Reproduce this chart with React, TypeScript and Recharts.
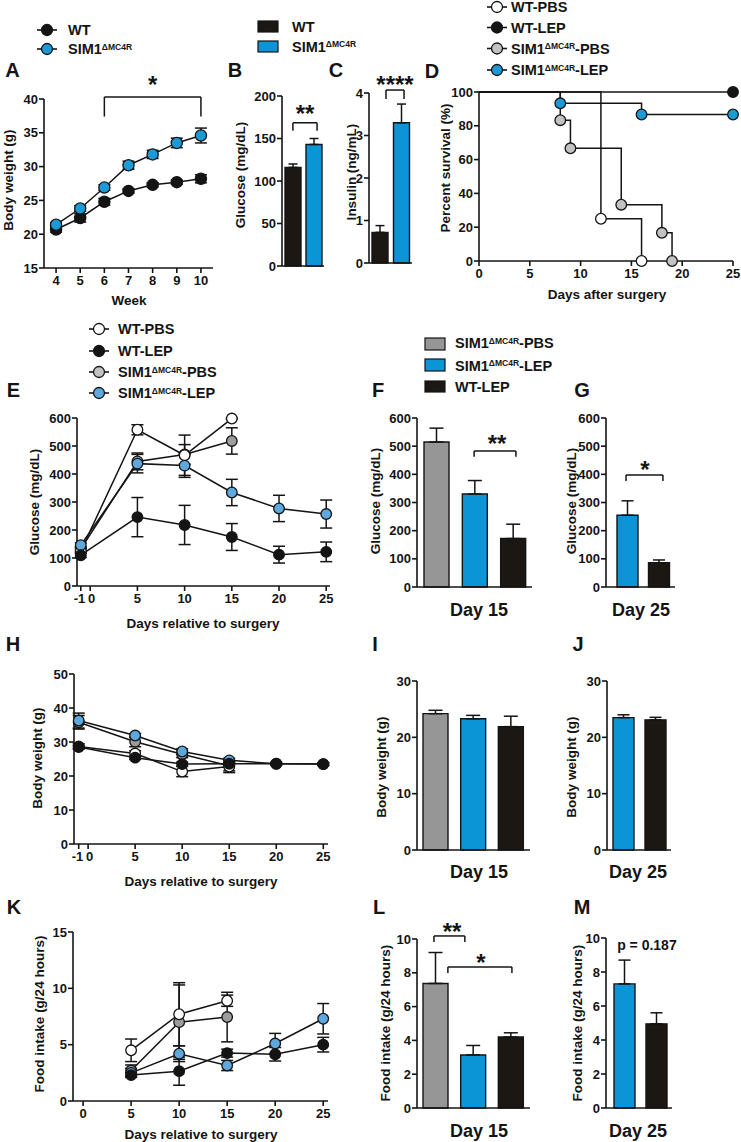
import React from 'react';
import {
  LineChart,
  Line,
  BarChart,
  Bar,
  XAxis,
  YAxis,
  ErrorBar,
  ReferenceLine,
  ReferenceDot,
  Cell,
} from 'recharts';

const FONT = '"Liberation Sans", Arial, Helvetica, sans-serif';
const INK = '#141414';
const BLUE = '#1c9ad6';
const BLUE_LIGHT = '#5fa8dd';
const BLUE_BAR = '#0b95d7';
const GRAY_LIGHT = '#c2c2c2';
const GRAY_MID = '#9c9c9c';
const GRAY_BAR = '#969696';
const BLACK_BAR = '#1b1814';
const WHITE = '#ffffff';

// ---------- Panel A: body weight by week ----------
const weeks = [4, 5, 6, 7, 8, 9, 10];
const weekTicks = [4, 5, 6, 7, 8, 9, 10];
const bwWt = [20.7, 22.4, 24.8, 26.4, 27.3, 27.7, 28.2];
const bwWtSem = [0.4, 0.6, 0.5, 0.3, 0.3, 0.3, 0.6];
const bwSim = [21.4, 23.8, 26.9, 30.2, 31.8, 33.5, 34.6];
const bwSimSem = [0.3, 0.4, 0.4, 0.6, 0.6, 0.7, 1.1];
const bwTicksA = [15, 20, 25, 30, 35, 40];

// ---------- Panels B, C ----------
const genotypes = ['WT', 'SIM1ΔMC4R'];
const glucoseBase = [116, 143];
const glucoseBaseSem = [4, 7];
const glucoseTicksB = [0, 50, 100, 150, 200];
const insulinBase = [0.72, 3.3];
const insulinBaseSem = [0.16, 0.44];
const insulinTicks = [0, 1, 2, 3, 4];

// ---------- Panel D: survival ----------
const survWtPbsDays = [0, 12, 16];
const survWtPbs = [100, 25, 0];
const survWtLepDays = [0, 25];
const survWtLep = [100, 100];
const survSimPbsDays = [0, 8, 9, 14, 18, 19];
const survSimPbs = [100, 83.3, 66.7, 33.3, 16.7, 0];
const survSimLepDays = [0, 8, 16, 25];
const survSimLep = [100, 93.3, 86.7, 86.7];
const survTicksX = [0, 5, 10, 15, 20, 25];
const survTicksY = [0, 20, 40, 60, 80, 100];

// ---------- Panels E, H: time course ----------
const days = [-1, 5, 10, 15, 20, 25];
const dayTicks = [-1, 0, 5, 10, 15, 20, 25];
const gluWtPbs = [125, 558, 467, 598, null, null];
const gluWtPbsSem = [8, 18, 72, 2, null, null];
const gluWtLep = [110, 246, 218, 175, 112, 122];
const gluWtLepSem = [8, 70, 70, 48, 30, 35];
const gluSimPbs = [132, 445, 470, 518, null, null];
const gluSimPbsSem = [8, 30, 35, 47, null, null];
const gluSimLep = [146, 437, 430, 334, 277, 257];
const gluSimLepSem = [8, 33, 42, 47, 47, 50];
const gluTicks = [0, 100, 200, 300, 400, 500, 600];

const bwtWtPbs = [28.7, 26.6, 21.3, 22.8, null, null];
const bwtWtPbsSem = [0.8, 0.8, 1.5, 1.8, null, null];
const bwtWtLep = [28.5, 25.4, 23.5, 23.6, 23.6, 23.5];
const bwtWtLepSem = [0.5, 0.5, 0.6, 0.5, 0.4, 0.4];
const bwtSimPbs = [35.8, 30.1, 26.4, 23.0, null, null];
const bwtSimPbsSem = [2.0, 1.5, 1.0, 1.5, null, null];
const bwtSimLep = [36.3, 31.9, 27.2, 24.6, 23.6, 23.5];
const bwtSimLepSem = [2.2, 0.6, 0.8, 0.6, 0.4, 0.4];
const bwtTicks = [0, 10, 20, 30, 40, 50];

// ---------- Panel K: food intake ----------
const fiDays = [5, 10, 15, 20, 25];
const fiDayTicks = [0, 5, 10, 15, 20, 25];
const fiWtPbs = [4.5, 7.7, 8.9, null, null];
const fiWtPbsSem = [1.0, 2.8, 0.5, null, null];
const fiWtLep = [2.3, 2.65, 4.25, 4.15, 5.0];
const fiWtLepSem = [0.2, 1.25, 0.35, 0.6, 0.65];
const fiSimPbs = [2.7, 7.0, 7.45, null, null];
const fiSimPbsSem = [0.5, 3.3, 2.2, null, null];
const fiSimLep = [2.5, 4.2, 3.15, 5.1, 7.3];
const fiSimLepSem = [0.4, 0.7, 0.45, 0.9, 1.35];
const fiTicks = [0, 5, 10, 15];

// ---------- Bar panels F-G, I-J, L-M ----------
const groups3 = ['SIM1ΔMC4R-PBS', 'SIM1ΔMC4R-LEP', 'WT-LEP'];
const groups2 = ['SIM1ΔMC4R-LEP', 'WT-LEP'];
const glu15 = [515, 330, 172];
const glu15Sem = [49, 48, 51];
const glu25 = [255, 86];
const glu25Sem = [51, 10];
const glucoseTicks600 = [0, 100, 200, 300, 400, 500, 600];
const bw15 = [24.2, 23.3, 21.9];
const bw15Sem = [0.6, 0.6, 1.85];
const bw25 = [23.5, 23.1];
const bw25Sem = [0.5, 0.45];
const bwTicks30 = [0, 10, 20, 30];
const fi15 = [7.37, 3.14, 4.2];
const fi15Sem = [1.83, 0.56, 0.25];
const fi25 = [7.3, 4.95];
const fi25Sem = [1.4, 0.65];
const fiTicks10 = [0, 2, 4, 6, 8, 10];

// ---------- layout helpers ----------
type Rect = { x0: number; y0: number; x1: number; y1: number };
const PAD = { l: 50, t: 34, r: 22, b: 30 };
const chartMargin = { top: PAD.t, right: PAD.r, bottom: 0, left: 0 };
const frameStyle = (p: Rect): React.CSSProperties => ({
  position: 'absolute',
  left: p.x0 - PAD.l,
  top: p.y0 - PAD.t,
});
const dims = (p: Rect) => ({
  width: p.x1 - p.x0 + PAD.l + PAD.r,
  height: p.y1 - p.y0 + PAD.t + PAD.b,
});

const axisStroke = { stroke: INK, strokeWidth: 1.6 };
const tickStyle = { fill: INK, fontSize: 13, fontWeight: 700, fontFamily: FONT };

// "-1" and "0" sit close together on the day axes; nudge them apart like the original
const DayTick = (props: any) => {
  const { x, y, payload } = props;
  const v = payload.value;
  const anchor = v === -1 ? 'end' : 'middle';
  const dx = v === -1 ? 4.5 : v === 0 ? 1.5 : 0;
  return (
    <text x={x + dx} y={y} dy="0.71em" textAnchor={anchor} {...tickStyle}>
      {v}
    </text>
  );
};

const numX = (domain: number[], ticks: number[], tick: any = tickStyle) => ({
  type: 'number' as const,
  dataKey: 'x',
  domain,
  ticks,
  interval: 0 as const,
  height: PAD.b,
  axisLine: axisStroke,
  tickLine: axisStroke,
  tick,
  tickSize: 5,
  tickMargin: 3,
});
const numY = (domain: number[], ticks: number[]) => ({
  type: 'number' as const,
  domain,
  ticks,
  interval: 0 as const,
  width: PAD.l,
  axisLine: axisStroke,
  tickLine: axisStroke,
  tick: tickStyle,
  tickSize: 5,
  tickMargin: 1,
});

type Row = { x: number; y: number; e: number };
function seriesRows(xs: number[], ys: (number | null)[], es: (number | null)[]): Row[] {
  const out: Row[] = [];
  xs.forEach((x, i) => {
    const y = ys[i];
    if (y !== null && y !== undefined) out.push({ x, y, e: es[i] ?? 0 });
  });
  return out;
}

function lineSeries(id: string, data: Row[], fill: string, r = 5.3) {
  return (
    <Line
      key={id}
      name={id}
      data={data}
      dataKey="y"
      type="linear"
      stroke={INK}
      strokeWidth={1.5}
      dot={{ r, fill, stroke: INK, strokeWidth: 1.3, fillOpacity: 1 }}
      activeDot={false}
      isAnimationActive={false}
    >
      <ErrorBar dataKey="e" width={6} stroke={INK} strokeWidth={1.5} direction="y" />
    </Line>
  );
}

function stepSeries(id: string, data: Row[], fill: string) {
  return (
    <Line
      key={id}
      name={id}
      data={data}
      dataKey="y"
      type="stepAfter"
      stroke={INK}
      strokeWidth={1.5}
      activeDot={false}
      isAnimationActive={false}
      dot={(p: any) =>
        p.index === 0 ? (
          <g key={`${id}-${p.index}`} />
        ) : (
          <circle key={`${id}-${p.index}`} cx={p.cx} cy={p.cy} r={5.3} fill={fill} stroke={INK} strokeWidth={1.3} />
        )
      }
    />
  );
}

function bracket(key: string, xa: number, xb: number, yTop: number, yEnd: number) {
  const st = { stroke: INK, strokeWidth: 1.5 };
  return [
    <ReferenceLine key={key + 'l'} segment={[{ x: xa, y: yEnd }, { x: xa, y: yTop }]} ifOverflow="visible" {...st} />,
    <ReferenceLine key={key + 't'} segment={[{ x: xa, y: yTop }, { x: xb, y: yTop }]} ifOverflow="visible" {...st} />,
    <ReferenceLine key={key + 'r'} segment={[{ x: xb, y: yTop }, { x: xb, y: yEnd }]} ifOverflow="visible" {...st} />,
  ];
}

function note(key: string, x: number, y: number, text: string, size = 24) {
  return (
    <ReferenceDot
      key={key}
      x={x}
      y={y}
      r={0}
      fill="none"
      stroke="none"
      ifOverflow="visible"
      label={{ value: text, position: 'center', fill: INK, fontSize: size, fontWeight: 700, fontFamily: FONT }}
    />
  );
}

// Transparent chart laid over a bar panel: same plot box, numeric x in "bar slot" units
function AnnotLayer(props: { rect: Rect; n: number; yDomain: number[]; children: React.ReactNode }) {
  const d = dims(props.rect);
  return (
    <div style={frameStyle(props.rect)}>
      <LineChart
        width={d.width}
        height={d.height}
        margin={{ top: PAD.t, right: PAD.r, bottom: PAD.b, left: PAD.l }}
      >
        <XAxis type="number" dataKey="x" domain={[0, props.n]} hide allowDataOverflow />
        <YAxis type="number" domain={props.yDomain} hide allowDataOverflow />
        {props.children}
      </LineChart>
    </div>
  );
}

// ---------- panels ----------
const RA: Rect = { x0: 44, y0: 99, x1: 213, y1: 268 };
function PanelA() {
  const d = dims(RA);
  return (
    <div style={frameStyle(RA)}>
      <LineChart width={d.width} height={d.height} margin={chartMargin}>
        <XAxis {...numX([3.5, 10.5], weekTicks)} />
        <YAxis {...numY([15, 40], bwTicksA)} />
        {bracket('a', 6, 10, 40.3, 37.4)}
        {note('a*', 8, 42.2, '*')}
        {lineSeries('wt', seriesRows(weeks, bwWt, bwWtSem), INK, 5.6)}
        {lineSeries('sim', seriesRows(weeks, bwSim, bwSimSem), BLUE, 5.6)}
      </LineChart>
    </div>
  );
}

const RD: Rect = { x0: 479, y0: 92, x1: 733, y1: 261 };
function PanelD() {
  const d = dims(RD);
  return (
    <div style={frameStyle(RD)}>
      <LineChart width={d.width} height={d.height} margin={chartMargin}>
        <XAxis {...numX([0, 25], survTicksX)} />
        <YAxis {...numY([0, 100], survTicksY)} />
        {stepSeries('wtlep', seriesRows(survWtLepDays, survWtLep, [0, 0]), INK)}
        {stepSeries('simlep', seriesRows(survSimLepDays, survSimLep, [0, 0, 0, 0]), BLUE)}
        {stepSeries('simpbs', seriesRows(survSimPbsDays, survSimPbs, [0, 0, 0, 0, 0, 0]), GRAY_LIGHT)}
        {stepSeries('wtpbs', seriesRows(survWtPbsDays, survWtPbs, [0, 0, 0]), WHITE)}
      </LineChart>
    </div>
  );
}

function TimePanel(props: {
  rect: Rect;
  xDomain: number[];
  xTicks: number[];
  yDomain: number[];
  yTicks: number[];
  xs: number[];
  wtPbs: (number | null)[];
  wtPbsSem: (number | null)[];
  wtLep: (number | null)[];
  wtLepSem: (number | null)[];
  simPbs: (number | null)[];
  simPbsSem: (number | null)[];
  simLep: (number | null)[];
  simLepSem: (number | null)[];
  dayTick?: boolean;
}) {
  const p = props;
  const d = dims(p.rect);
  return (
    <div style={frameStyle(p.rect)}>
      <LineChart width={d.width} height={d.height} margin={chartMargin}>
        <XAxis {...numX(p.xDomain, p.xTicks, p.dayTick ? <DayTick /> : tickStyle)} />
        <YAxis {...numY(p.yDomain, p.yTicks)} />
        {lineSeries('simpbs', seriesRows(p.xs, p.simPbs, p.simPbsSem), GRAY_MID)}
        {lineSeries('wtpbs', seriesRows(p.xs, p.wtPbs, p.wtPbsSem), WHITE)}
        {lineSeries('simlep', seriesRows(p.xs, p.simLep, p.simLepSem), BLUE_LIGHT)}
        {lineSeries('wtlep', seriesRows(p.xs, p.wtLep, p.wtLepSem), INK)}
      </LineChart>
    </div>
  );
}

function BarPanel(props: {
  rect: Rect;
  cats: string[];
  vals: number[];
  sems: number[];
  colors: string[];
  yDomain: number[];
  yTicks: number[];
  barSize: number;
  capW: number;
  padL?: number;
  extra?: React.ReactNode;
}) {
  const { rect, cats, vals, sems, colors, yDomain, yTicks, barSize, capW, padL = 0, extra } = props;
  const data = cats.map((c, i) => ({ c, v: vals[i], e: [0, sems[i]] }));
  const d = dims(rect);
  return (
    <>
      <div style={frameStyle(rect)}>
        <BarChart width={d.width} height={d.height} data={data} margin={chartMargin} barCategoryGap={0}>
          <XAxis
            dataKey="c"
            type="category"
            height={PAD.b}
            tick={false}
            tickLine={false}
            axisLine={axisStroke}
            padding={{ left: padL, right: 0 }}
          />
          <YAxis {...numY(yDomain, yTicks)} />
          <Bar dataKey="v" barSize={barSize} stroke={INK} strokeWidth={1.4} isAnimationActive={false}>
            {data.map((_, i) => (
              <Cell key={i} fill={colors[i]} />
            ))}
            <ErrorBar dataKey="e" width={capW} stroke={INK} strokeWidth={1.5} direction="y" />
          </Bar>
        </BarChart>
      </div>
      {extra ? (
        <AnnotLayer rect={rect} n={cats.length} yDomain={yDomain}>
          {extra}
        </AnnotLayer>
      ) : null}
    </>
  );
}

const C2 = [BLACK_BAR, BLUE_BAR];
const C3 = [GRAY_BAR, BLUE_BAR, BLACK_BAR];
const C2b = [BLUE_BAR, BLACK_BAR];

// ---------- overlay text ----------
const Txt = (p: { x: number; y: number; size: number; children: React.ReactNode; anchor?: string }) => (
  <text x={p.x} y={p.y + p.size * 0.355} fontSize={p.size} textAnchor={(p.anchor as any) || 'middle'}>
    {p.children}
  </text>
);
const VTxt = (p: { x: number; y: number; children: React.ReactNode }) => (
  <text
    x={p.x}
    y={p.y + 13.5 * 0.3}
    fontSize={13.5}
    textAnchor="middle"
    transform={`rotate(-90 ${p.x} ${p.y})`}
  >
    {p.children}
  </text>
);
const LegDot = (p: { x: number; y: number; fill: string }) => (
  <g>
    <line x1={p.x - 10} x2={p.x + 10} y1={p.y} y2={p.y} stroke={INK} strokeWidth={1.6} />
    <circle cx={p.x} cy={p.y} r={5.5} fill={p.fill} stroke={INK} strokeWidth={1.3} />
  </g>
);
const LegSq = (p: { x: number; y: number; w: number; h: number; fill: string }) => (
  <rect x={p.x} y={p.y} width={p.w} height={p.h} fill={p.fill} stroke={INK} strokeWidth={1.2} />
);
const Sim = (p: { x: number; y: number; suffix?: string }) => (
  <text x={p.x} y={p.y + 14.5 * 0.355} fontSize={14.5}>
    SIM1
    <tspan fontSize={8.5} dy={-4.6}>
      ΔMC4R
    </tspan>
    {p.suffix ? (
      <tspan fontSize={14.5} dy={4.6}>
        {p.suffix}
      </tspan>
    ) : null}
  </text>
);

function Overlay() {
  const L = (x: number, y: number, t: string) => (
    <Txt key={t} x={x} y={y} size={20}>
      {t}
    </Txt>
  );
  return (
    <svg
      width={741}
      height={1142}
      style={{ position: 'absolute', left: 0, top: 0 }}
      fontFamily={FONT}
      fontWeight={700}
      fill={INK}
    >
      {L(12.5, 70, 'A')}
      {L(235, 70, 'B')}
      {L(336, 70, 'C')}
      {L(432, 71, 'D')}
      {L(13.5, 390, 'E')}
      {L(378, 390, 'F')}
      {L(582, 390, 'G')}
      {L(13, 644, 'H')}
      {L(375, 644, 'I')}
      {L(578, 644, 'J')}
      {L(14, 907, 'K')}
      {L(379, 907, 'L')}
      {L(582, 907, 'M')}

      {/* legend A */}
      <LegDot x={47} y={30} fill={INK} />
      <LegDot x={47} y={49} fill={BLUE} />
      <Txt x={68} y={30} size={14.5} anchor="start">
        WT
      </Txt>
      <Sim x={68} y={49} />

      {/* legend B/C */}
      <LegSq x={258} y={21} w={20} h={11} fill={BLACK_BAR} />
      <LegSq x={258} y={41} w={20} h={11} fill={BLUE_BAR} />
      <Txt x={292} y={26.5} size={14.5} anchor="start">
        WT
      </Txt>
      <Sim x={292} y={46.5} />

      {/* legend D */}
      <LegDot x={497} y={7} fill={WHITE} />
      <LegDot x={497} y={27.5} fill={INK} />
      <LegDot x={497} y={48.5} fill={GRAY_LIGHT} />
      <LegDot x={497} y={70} fill={BLUE} />
      <Txt x={511} y={7} size={14.5} anchor="start">
        WT-PBS
      </Txt>
      <Txt x={511} y={27.5} size={14.5} anchor="start">
        WT-LEP
      </Txt>
      <Sim x={511} y={48.5} suffix="-PBS" />
      <Sim x={511} y={70} suffix="-LEP" />

      {/* legend E */}
      <LegDot x={99} y={329} fill={WHITE} />
      <LegDot x={99} y={351} fill={INK} />
      <LegDot x={99} y={372} fill={GRAY_LIGHT} />
      <LegDot x={99} y={393} fill={BLUE_LIGHT} />
      <Txt x={118} y={329} size={14.5} anchor="start">
        WT-PBS
      </Txt>
      <Txt x={118} y={351} size={14.5} anchor="start">
        WT-LEP
      </Txt>
      <Sim x={118} y={372} suffix="-PBS" />
      <Sim x={118} y={393} suffix="-LEP" />

      {/* legend F */}
      <LegSq x={425} y={338} w={20} h={12} fill={GRAY_BAR} />
      <LegSq x={425} y={359} w={20} h={12} fill={BLUE_BAR} />
      <LegSq x={425} y={381} w={20} h={11} fill={BLACK_BAR} />
      <Sim x={455} y={343} suffix="-PBS" />
      <Sim x={455} y={365.5} suffix="-LEP" />
      <Txt x={455} y={387} size={14.5} anchor="start">
        WT-LEP
      </Txt>

      {/* x axis titles */}
      <Txt x={129} y={300} size={13.5}>
        Week
      </Txt>
      <Txt x={607} y={294} size={13.5}>
        Days after surgery
      </Txt>
      <Txt x={203} y={623} size={13.5}>
        Days relative to surgery
      </Txt>
      <Txt x={201} y={881} size={13.5}>
        Days relative to surgery
      </Txt>
      <Txt x={201} y={1134} size={13.5}>
        Days relative to surgery
      </Txt>
      <Txt x={479} y={610} size={18}>
        Day 15
      </Txt>
      <Txt x={641} y={610} size={18}>
        Day 25
      </Txt>
      <Txt x={479} y={871.5} size={18}>
        Day 15
      </Txt>
      <Txt x={638} y={871.5} size={18}>
        Day 25
      </Txt>
      <Txt x={479} y={1131} size={18}>
        Day 15
      </Txt>
      <Txt x={638} y={1131} size={18}>
        Day 25
      </Txt>

      {/* y axis titles */}
      <VTxt x={9} y={180}>Body weight (g)</VTxt>
      <VTxt x={241} y={175}>Glucose (mg/dL)</VTxt>
      <VTxt x={352} y={172}>Insulin (ng/mL)</VTxt>
      <VTxt x={446} y={168}>Percent survival (%)</VTxt>
      <VTxt x={35} y={502}>Glucose (mg/dL)</VTxt>
      <VTxt x={376} y={501}>Glucose (mg/dL)</VTxt>
      <VTxt x={572} y={501}>Glucose (mg/dL)</VTxt>
      <VTxt x={38} y={758}>Body weight (g)</VTxt>
      <VTxt x={382} y={767}>Body weight (g)</VTxt>
      <VTxt x={572} y={767}>Body weight (g)</VTxt>
      <VTxt x={40} y={1014}>Food intake (g/24 hours)</VTxt>
      <VTxt x={386} y={1023}>Food intake (g/24 hours)</VTxt>
      <VTxt x={578} y={1023}>Food intake (g/24 hours)</VTxt>
    </svg>
  );
}

export default function App() {
  return (
    <div
      style={{
        position: 'absolute',
        left: 0,
        top: 0,
        width: 741,
        height: 1142,
        overflow: 'hidden',
        background: '#fff',
        fontFamily: FONT,
      }}
    >
      <PanelA />
      <BarPanel
        rect={{ x0: 282, y0: 96, x1: 324, y1: 266 }}
        cats={genotypes}
        vals={glucoseBase}
        sems={glucoseBaseSem}
        colors={C2}
        yDomain={[0, 200]}
        yTicks={glucoseTicksB}
        barSize={16}
        capW={4.5}
        extra={[...bracket('b', 0.52, 1.67, 168.5, 159), note('b*', 1.1, 179, '**')]}
      />
      <BarPanel
        rect={{ x0: 369, y0: 93, x1: 412, y1: 263 }}
        cats={genotypes}
        vals={insulinBase}
        sems={insulinBaseSem}
        colors={C2}
        yDomain={[0, 4]}
        yTicks={insulinTicks}
        barSize={16}
        capW={4.5}
        extra={[...bracket('c', 0.79, 1.63, 4.07, 3.86), note('c*', 1.21, 4.21, '****')]}
      />
      <PanelD />
      <TimePanel
        rect={{ x0: 77, y0: 418, x1: 330, y1: 586 }}
        xDomain={[-1.4, 25.4]}
        xTicks={dayTicks}
        yDomain={[0, 600]}
        yTicks={gluTicks}
        xs={days}
        wtPbs={gluWtPbs}
        wtPbsSem={gluWtPbsSem}
        wtLep={gluWtLep}
        wtLepSem={gluWtLepSem}
        simPbs={gluSimPbs}
        simPbsSem={gluSimPbsSem}
        simLep={gluSimLep}
        simLepSem={gluSimLepSem}
        dayTick
      />
      <BarPanel
        rect={{ x0: 417, y0: 418, x1: 532, y1: 587 }}
        cats={groups3}
        vals={glu15}
        sems={glu15Sem}
        colors={C3}
        yDomain={[0, 600]}
        yTicks={glucoseTicks600}
        barSize={25}
        capW={7}
        extra={[...bracket('f', 1.49, 2.58, 483, 462), note('f*', 2.09, 511, '**')]}
      />
      <BarPanel
        rect={{ x0: 606, y0: 418, x1: 675, y1: 587 }}
        cats={groups2}
        vals={glu25}
        sems={glu25Sem}
        colors={C2b}
        yDomain={[0, 600]}
        yTicks={glucoseTicks600}
        barSize={21}
        capW={6}
        padL={6}
        extra={[...bracket('g', 0.58, 1.65, 398, 376), note('g*', 1.13, 419, '*')]}
      />
      <TimePanel
        rect={{ x0: 74, y0: 674, x1: 328, y1: 844 }}
        xDomain={[-1.5, 25.5]}
        xTicks={dayTicks}
        yDomain={[0, 50]}
        yTicks={bwtTicks}
        xs={days}
        wtPbs={bwtWtPbs}
        wtPbsSem={bwtWtPbsSem}
        wtLep={bwtWtLep}
        wtLepSem={bwtWtLepSem}
        simPbs={bwtSimPbs}
        simPbsSem={bwtSimPbsSem}
        simLep={bwtSimLep}
        simLepSem={bwtSimLepSem}
        dayTick
      />
      <BarPanel
        rect={{ x0: 417, y0: 681, x1: 530, y1: 850 }}
        cats={groups3}
        vals={bw15}
        sems={bw15Sem}
        colors={C3}
        yDomain={[0, 30]}
        yTicks={bwTicks30}
        barSize={25}
        capW={7}
      />
      <BarPanel
        rect={{ x0: 607, y0: 681, x1: 671, y1: 850 }}
        cats={groups2}
        vals={bw25}
        sems={bw25Sem}
        colors={C2b}
        yDomain={[0, 30]}
        yTicks={bwTicks30}
        barSize={21}
        capW={6}
      />
      <TimePanel
        rect={{ x0: 73, y0: 932, x1: 328, y1: 1101 }}
        xDomain={[-1.05, 25.5]}
        xTicks={fiDayTicks}
        yDomain={[0, 15]}
        yTicks={fiTicks}
        xs={fiDays}
        wtPbs={fiWtPbs}
        wtPbsSem={fiWtPbsSem}
        wtLep={fiWtLep}
        wtLepSem={fiWtLepSem}
        simPbs={fiSimPbs}
        simPbsSem={fiSimPbsSem}
        simLep={fiSimLep}
        simLepSem={fiSimLepSem}
      />
      <BarPanel
        rect={{ x0: 417, y0: 939, x1: 530, y1: 1108 }}
        cats={groups3}
        vals={fi15}
        sems={fi15Sem}
        colors={C3}
        yDomain={[0, 10]}
        yTicks={fiTicks10}
        barSize={25}
        capW={7}
        extra={[
          ...bracket('l1', 0.45, 1.27, 10.18, 9.82),
          note('l1*', 0.93, 10.47, '**'),
          ...bracket('l2', 0.82, 2.52, 8.34, 7.99),
          note('l2*', 1.7, 8.64, '*'),
        ]}
      />
      <BarPanel
        rect={{ x0: 606, y0: 938, x1: 672, y1: 1108 }}
        cats={groups2}
        vals={fi25}
        sems={fi25Sem}
        colors={C2b}
        yDomain={[0, 10]}
        yTicks={fiTicks10}
        barSize={21}
        capW={6}
        padL={2}
        extra={[note('m-p', 1.24, 9.59, 'p = 0.187', 14)]}
      />
      <Overlay />
    </div>
  );
}
